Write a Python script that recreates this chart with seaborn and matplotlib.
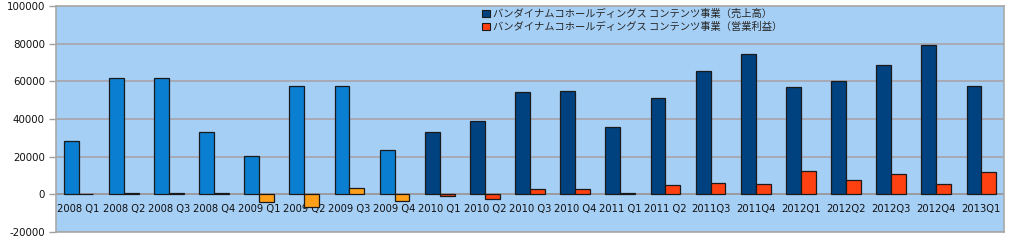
import matplotlib
matplotlib.use("Agg")
import matplotlib.pyplot as plt
import seaborn as sns
import pandas as pd
import numpy as np
from matplotlib.patches import Patch

quarters = ["2008 Q1", "2008 Q2", "2008 Q3", "2008 Q4", "2009 Q1", "2009 Q2", "2009 Q3",
            "2009 Q4", "2010 Q1", "2010 Q2", "2010 Q3", "2010 Q4", "2011 Q1", "2011 Q2",
            "2011Q3", "2011Q4", "2012Q1", "2012Q2", "2012Q3", "2012Q4", "2013Q1"]
sales = [28100, 62000, 62000, 33300, 20500, 57500, 57500, 23300, 33100, 38700, 54300,
         54900, 36000, 51300, 65400, 74700, 57200, 60200, 68800, 79100, 57400]
profit = [150, 450, 450, 850, -4300, -6800, 3200, -3750, -900, -2300, 2800,
          2700, 600, 4800, 6200, 5350, 12300, 7650, 10700, 5350, 12100]
series_names = ["バンダイナムコホールディングス コンテンツ事業（売上高）",
                "バンダイナムコホールディングス コンテンツ事業（営業利益）"]
n_early = 8  # first quarters drawn in lighter colours

dark_colors = ["#00427F", "#FF4010"]
light_colors = ["#0A7ED0", "#FF9F1A"]
bg_color = "#A6CFF5"

df = pd.DataFrame({
    "quarter": quarters * 2,
    "value": sales + profit,
    "series": [series_names[0]] * len(quarters) + [series_names[1]] * len(quarters),
})

sns.set_style("white")
plt.rcParams["font.family"] = ["DejaVu Sans"]

fig = plt.figure(figsize=(10.12, 2.44), dpi=100)
ax = fig.add_axes([56 / 1012, 12 / 244, (1004 - 56) / 1012, (232 - 6) / 244])
ax.set_facecolor(bg_color)

sns.barplot(data=df, x="quarter", y="value", hue="series", order=quarters,
            hue_order=series_names, palette=dark_colors, width=0.66, gap=0,
            saturation=1, edgecolor="#1a1a1a", linewidth=0.9, legend=False,
            ax=ax, zorder=3)

for ci, cont in enumerate(ax.containers):
    for i, bar in enumerate(cont):
        if i < n_early:
            bar.set_facecolor(light_colors[ci])

ax.set_ylim(-20000, 100000)
ax.set_xlim(-0.5, len(quarters) - 0.5)
ax.set_yticks(np.arange(-20000, 100001, 20000))
ax.set_yticklabels([str(v) for v in range(-20000, 100001, 20000)])
ax.yaxis.grid(True, color="#A8A8B0", linewidth=1.3, zorder=0)
ax.set_axisbelow(True)
ax.axhline(0, color="#9A9AA0", linewidth=1.3, zorder=2)

ax.tick_params(axis="y", which="major", length=5, width=1, color="#A0A0A0",
               labelsize=7.4, pad=3, labelcolor="#111111", left=True)
ax.tick_params(axis="x", length=0, pad=-20.5, labelsize=7.2, labelcolor="#111111")
ax.set_xlabel("")
ax.set_ylabel("")

for s in ax.spines.values():
    s.set_color("#A8A8A8")
    s.set_linewidth(1.2)

handles = [Patch(facecolor=c, edgecolor="#1a1a1a", linewidth=0.8) for c in dark_colors]
leg = ax.legend(handles, series_names, loc="upper left",
                bbox_to_anchor=((478 - 56) / (1004 - 56), 1.005),
                frameon=False, handlelength=0.75, handleheight=0.75,
                handletextpad=0.3, labelspacing=0.25, borderaxespad=0.0,
                prop={"family": ["Noto Sans CJK JP", "DejaVu Sans"], "size": 7.4})

fig.savefig("out.png", dpi=100, facecolor="white")
